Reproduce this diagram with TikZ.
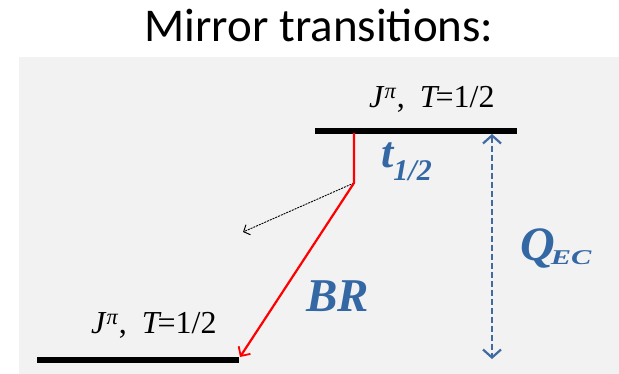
\documentclass[tikz,border=0pt]{standalone}
\usepackage{fontspec}
\setmainfont{Liberation Serif}
\newfontfamily\titlefont{Carlito}
\usetikzlibrary{arrows.meta}
\definecolor{bgray}{RGB}{242,242,242}
\definecolor{lblue}{RGB}{52,104,164}
\definecolor{tline}{RGB}{64,106,160}
\newcommand{\lvtext}{\textit{J}\textsuperscript{\textit{π}},\hspace{15pt}\textit{T}\kern-4pt=1/2}
\begin{document}
\begin{tikzpicture}[x=1pt,y=-1pt,
  level/.style={line width=5.5pt,black},
  lvlabel/.style={anchor=base west,inner sep=0pt,font=\fontsize{32}{32}\selectfont},
  bluelab/.style={anchor=base west,inner sep=0pt,text=lblue},
  decay/.style={red,line width=2.2pt,-{Straight Barb[length=7pt,width=14pt,line width=1.8pt]}},
  branch/.style={black,line width=0.9pt,dash pattern=on 2pt off 1pt,-{Straight Barb[length=5pt,width=11pt,line width=1pt]}},
  qarrow/.style={tline,line width=2.6pt,dash pattern=on 6pt off 3pt,{Straight Barb[length=8pt,width=18pt,line width=2.2pt]}-{Straight Barb[length=8pt,width=18pt,line width=2.2pt]}}]
\useasboundingbox (0,0) rectangle (619,374);
\fill[white] (0,0) rectangle (619,374);
\fill[bgray] (19,57) rectangle (619,374);
\node[anchor=base,inner sep=0pt,font=\titlefont\fontsize{47}{47}\selectfont] (title) at (319,42) {Mirror transitions:};
% levels
\coordinate (uL) at (315,131);
\coordinate (uR) at (517,131);
\coordinate (lL) at (37,360);
\coordinate (lR) at (239,360);
\draw[level] (uL) -- (uR);
\draw[level] (lL) -- (lR);
\node[lvlabel] (ulab) at (369,108) {\lvtext};
\node[lvlabel] (llab) at (91,334) {\lvtext};
% decay
\coordinate (start) at (354,133);
\coordinate (knee) at (354,183);
\coordinate (tip) at (240,357);
\coordinate (btip) at (243,232);
\draw[branch] (knee) -- (btip);
\draw[decay] (start) -- (knee) -- (tip);
% Q arrow
\coordinate (qtop) at (492,134);
\coordinate (qbot) at (492,359);
\draw[qarrow] (qtop) -- (qbot);
% labels
\node[bluelab,font=\bfseries\itshape\fontsize{44}{44}\selectfont] (thalf) at (381,168) {t\kern0pt\raisebox{-13pt}{\fontsize{30}{30}\selectfont 1/2}};
\node[bluelab,font=\bfseries\itshape\fontsize{47}{47}\selectfont] (BR) at (306,312) {BR};
\node[bluelab,font=\bfseries\itshape\fontsize{48}{48}\selectfont] (Q) at (520,261) {Q\kern-4pt\raisebox{-4pt}{\scalebox{1.45}[1]{\fontsize{21}{21}\selectfont EC}}};
\end{tikzpicture}
\end{document}
